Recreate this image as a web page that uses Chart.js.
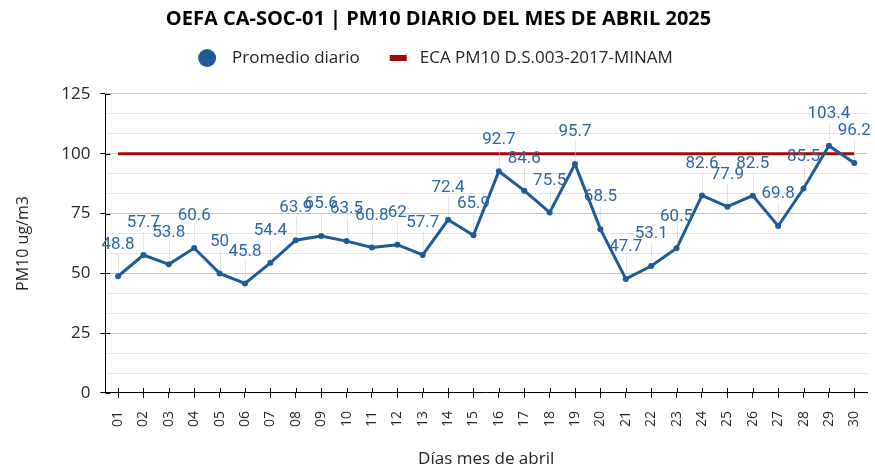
<!DOCTYPE html>
<html>
<head>
<meta charset="utf-8">
<script src="https://cdn.jsdelivr.net/npm/chart.js@4.4.1/dist/chart.umd.min.js"></script>
<style>
html,body{margin:0;padding:0;background:#fff;}
#wrap{width:875px;height:468px;position:relative;}
</style>
</head>
<body>
<div id="wrap"><canvas id="c" width="875" height="468"></canvas></div>
<script>
const days = ['01','02','03','04','05','06','07','08','09','10','11','12','13','14','15','16','17','18','19','20','21','22','23','24','25','26','27','28','29','30'];
const promedioDiario = [48.8,57.7,53.8,60.6,50,45.8,54.4,63.9,65.6,63.5,60.8,62,57.7,72.4,65.9,92.7,84.6,75.5,95.7,68.5,47.7,53.1,60.5,82.6,77.9,82.5,69.8,85.5,103.4,96.2];
const ecaLimit = days.map(() => 100);
const seriesNames = ['Promedio diario', 'ECA PM10 D.S.003-2017-MINAM'];
const yMax = 125;
const yLabelStep = 25;
const yGridStep = 25 / 3;

const BLUE = '#1f5b97';
const LABEL_BLUE = '#2b66a6';
const RED = '#a50a0a';
const TEXT = '#262626';

const isMajor = v => Math.abs(v / yLabelStep - Math.round(v / yLabelStep)) < 1e-6;

const labelsPlugin = {
  id: 'pointLabels',
  afterDatasetsDraw(chart) {
    const ctx = chart.ctx;
    const meta = chart.getDatasetMeta(0);
    const ds = chart.data.datasets[0];
    ctx.save();
    ctx.font = '17px Roboto';
    ctx.textAlign = 'center';
    ctx.textBaseline = 'middle';
    meta.data.forEach((pt) => {
      const ly = pt.y - 32;
      ctx.strokeStyle = 'rgba(205,205,205,0.55)';
      ctx.lineWidth = 1;
      ctx.beginPath();
      ctx.moveTo(Math.round(pt.x) + 0.5, ly + 9);
      ctx.lineTo(Math.round(pt.x) + 0.5, pt.y - 4);
      ctx.stroke();
    });
    meta.data.forEach((pt, i) => {
      ctx.fillStyle = LABEL_BLUE;
      ctx.fillText(String(ds.data[i]), pt.x, pt.y - 32);
    });
    ctx.restore();
  }
};

const innerTicks = {
  id: 'innerTicks',
  afterDraw(chart) {
    const ctx = chart.ctx;
    const xs = chart.scales.x, ys = chart.scales.y;
    ctx.save();
    ctx.strokeStyle = '#000';
    ctx.lineWidth = 1;
    ctx.beginPath();
    xs.ticks.forEach((t, i) => {
      const x = Math.round(xs.getPixelForTick(i)) + 0.5;
      ctx.moveTo(x, ys.bottom);
      ctx.lineTo(x, ys.bottom - 5);
    });
    ys.ticks.forEach((t) => {
      if (isMajor(t.value)) {
        const y = Math.round(ys.getPixelForValue(t.value)) + 0.5;
        ctx.moveTo(xs.left, y);
        ctx.lineTo(xs.left + 5, y);
      }
    });
    ctx.stroke();
    ctx.restore();
  }
};

const customLegend = {
  id: 'customLegend',
  afterDraw(chart) {
    const ctx = chart.ctx;
    ctx.save();
    ctx.font = '17px "Open Sans"';
    ctx.textBaseline = 'middle';
    ctx.textAlign = 'left';
    const y = 58;
    const w1 = ctx.measureText(seriesNames[0]).width;
    const w2 = ctx.measureText(seriesNames[1]).width;
    const total = 18 + 16 + w1 + 30 + 17 + 13 + w2;
    let x = chart.width / 2 - 2 - total / 2;
    ctx.fillStyle = BLUE;
    ctx.beginPath();
    ctx.arc(x + 9, y, 9, 0, Math.PI * 2);
    ctx.fill();
    x += 18 + 16;
    ctx.fillStyle = TEXT;
    ctx.fillText(seriesNames[0], x, y);
    x += w1 + 30;
    ctx.fillStyle = RED;
    ctx.fillRect(x, y - 3, 17, 6);
    x += 17 + 13;
    ctx.fillStyle = TEXT;
    ctx.fillText(seriesNames[1], x, y);
    ctx.restore();
  }
};

new Chart(document.getElementById('c'), {
  type: 'line',
  data: {
    labels: days,
    datasets: [
      {
        label: seriesNames[0],
        data: promedioDiario,
        borderColor: BLUE,
        backgroundColor: BLUE,
        borderWidth: 3,
        pointRadius: 3,
        pointBackgroundColor: BLUE,
        pointBorderWidth: 0,
        tension: 0,
        order: 1
      },
      {
        label: seriesNames[1],
        data: ecaLimit,
        borderColor: RED,
        backgroundColor: RED,
        borderWidth: 3,
        pointRadius: 0,
        tension: 0,
        order: 2
      }
    ]
  },
  options: {
    responsive: false,
    animation: false,
    layout: { padding: { left: 10, right: 8, top: 0, bottom: 0 } },
    plugins: {
      title: {
        display: true,
        text: 'OEFA CA-SOC-01 | PM10 DIARIO DEL MES DE ABRIL 2025',
        color: '#000',
        font: { family: 'Open Sans', size: 20, weight: 'bold', lineHeight: 1.2 },
        padding: { top: 7, bottom: 63 }
      },
      legend: { display: false },
      tooltip: { enabled: false }
    },
    scales: {
      x: {
        offset: true,
        afterFit(scale) { scale.paddingRight = 0; },
        grid: { display: true, drawOnChartArea: false, drawTicks: true, tickLength: 5, color: '#000' },
        border: { color: '#000', width: 1 },
        ticks: { color: TEXT, font: { family: 'Open Sans', size: 14 }, minRotation: 90, maxRotation: 90, padding: 13 },
        title: { display: true, text: 'Días mes de abril', color: TEXT, font: { family: 'Open Sans', size: 17, lineHeight: 1 }, padding: { top: 11, bottom: 0 } }
      },
      y: {
        min: 0,
        max: yMax,
        afterBuildTicks(scale) {
          const t = [];
          for (let i = 0; i * yGridStep <= yMax + 1e-9; i++) t.push({ value: i * yGridStep });
          scale.ticks = t;
        },
        grid: {
          color: ctx => isMajor(ctx.tick.value) ? '#c6c6c6' : '#e4e4e4',
          tickColor: ctx => isMajor(ctx.tick.value) ? '#000' : 'rgba(0,0,0,0)',
          tickLength: 5,
          lineWidth: 1
        },
        border: { color: '#000', width: 1 },
        ticks: {
          color: TEXT,
          font: { family: 'Open Sans', size: 17 },
          padding: 10,
          autoSkip: false,
          callback: v => isMajor(v) ? String(Math.round(v)) : ''
        },
        title: { display: true, text: 'PM10 ug/m3', color: TEXT, font: { family: 'Open Sans', size: 16 }, padding: { bottom: 18 } }
      }
    }
  },
  plugins: [labelsPlugin, innerTicks, customLegend]
});
</script>
</body>
</html>
